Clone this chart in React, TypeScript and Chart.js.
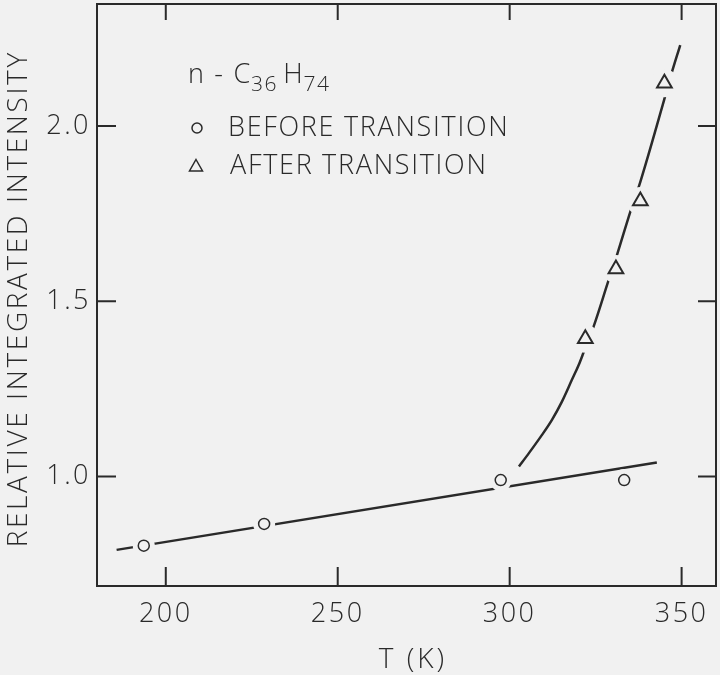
import React, { useEffect, useRef } from 'react';
import { Chart, registerables } from 'chart.js';

Chart.register(...registerables);

const BG = '#f1f1f1';
const INK = '#2a2a2a';
const FONT = '"Open Sans", "DejaVu Sans", sans-serif';

// Axis ticks
const xTickValues = [200, 250, 300, 350];
const xTickLabels = ['200', '250', '300', '350'];
const yTickValues = [1.0, 1.5, 2.0];
const yTickLabels = ['1.0', '1.5', '2.0'];

// Axis titles
const xTitle = 'T (K)';
const yTitle = 'RELATIVE INTEGRATED INTENSITY';

// Measured points
const beforeT = [193.6, 228.6, 297.4, 333.3];
const beforeI = [0.803, 0.865, 0.99, 0.99];
const afterT = [322.0, 330.9, 338.0, 345.0];
const afterI = [1.393, 1.592, 1.786, 2.122];

// Hand-drawn curves
const baseFitT = [185.7, 342.8];
const baseFitI = [0.791, 1.04];
const curveT = [302.7, 305.6, 309.4, 312.3, 315.2, 318.1, 320.1, 321.6, 324.4, 328.8, 331.2, 335.1, 338.0, 344.9, 346.8, 349.6];
const curveI = [1.029, 1.067, 1.119, 1.162, 1.214, 1.276, 1.319, 1.357, 1.428, 1.561, 1.632, 1.756, 1.841, 2.074, 2.141, 2.231];

const pts = (xs: number[], ys: number[]) => xs.map((x, i) => ({ x, y: ys[i] }));

const frameAndTicks = {
  id: 'frameAndTicks',
  beforeDraw(chart: any) {
    // spacing for Chart.js-drawn tick labels
    try { chart.ctx.letterSpacing = '2.5px'; } catch (e) {}
  },
  afterDraw(chart: any) {
    const { ctx, chartArea: a, scales } = chart;
    ctx.save();
    ctx.strokeStyle = INK;
    ctx.lineWidth = 2;
    ctx.strokeRect(a.left, a.top, a.right - a.left, a.bottom - a.top);
    ctx.beginPath();
    xTickValues.forEach((v) => {
      const px = scales.x.getPixelForValue(v);
      ctx.moveTo(px, a.bottom);
      ctx.lineTo(px, a.bottom - 19);
      ctx.moveTo(px, a.top);
      ctx.lineTo(px, a.top + 16);
    });
    yTickValues.forEach((v) => {
      const py = scales.y.getPixelForValue(v);
      ctx.moveTo(a.left, py);
      ctx.lineTo(a.left + 19, py);
      ctx.moveTo(a.right, py);
      ctx.lineTo(a.right - 18, py);
    });
    ctx.stroke();

    // Axis titles
    ctx.fillStyle = INK;
    ctx.textBaseline = 'alphabetic';
    ctx.textAlign = 'left';
    ctx.font = `300 28px ${FONT}`;
    try { (ctx as any).letterSpacing = '3px'; } catch (e) {}
    const wx = ctx.measureText(xTitle).width - 3;
    ctx.fillText(xTitle, (a.left + a.right) / 2 + 5 - wx / 2, 668);
    try { (ctx as any).letterSpacing = '2.6px'; } catch (e) {}
    const wy = ctx.measureText(yTitle).width - 2.6;
    ctx.save();
    ctx.translate(27, (a.top + a.bottom) / 2 + 5);
    ctx.rotate(-Math.PI / 2);
    ctx.fillText(yTitle, -wy / 2, 0);
    ctx.restore();
    ctx.restore();
  },
};

const legendBlock = {
  id: 'legendBlock',
  afterDraw(chart: any) {
    const { ctx, chartArea: a } = chart;
    ctx.save();
    ctx.fillStyle = INK;
    ctx.strokeStyle = INK;
    ctx.textBaseline = 'alphabetic';
    ctx.textAlign = 'left';
    const big = `300 27px ${FONT}`;
    const small = `300 21px ${FONT}`;
    try { (ctx as any).letterSpacing = '1.7px'; } catch (e) {}
    // Title line: n - C36 H74
    let x = a.left + 91;
    const y1 = a.top + 79;
    ctx.font = big;
    ctx.fillText('n - C', x, y1);
    x += ctx.measureText('n - C').width - 1;
    ctx.font = small;
    ctx.fillText('36', x, y1 + 8);
    x += ctx.measureText('36').width + 5;
    ctx.font = big;
    ctx.fillText('H', x, y1);
    x += ctx.measureText('H').width - 1;
    ctx.font = small;
    ctx.fillText('74', x, y1 + 8);

    // Entries
    ctx.font = big;
    const y2 = a.top + 132;
    const y3 = a.top + 170;
    ctx.lineWidth = 1.5;
    ctx.beginPath();
    ctx.arc(a.left + 100, y2 - 8, 5, 0, Math.PI * 2);
    ctx.stroke();
    ctx.fillText('BEFORE TRANSITION', a.left + 131, y2);
    ctx.beginPath();
    const tx = a.left + 99, ty = y3 - 8;
    ctx.moveTo(tx, ty - 6.5);
    ctx.lineTo(tx + 6.5, ty + 5);
    ctx.lineTo(tx - 6.5, ty + 5);
    ctx.closePath();
    ctx.stroke();
    ctx.fillText('AFTER TRANSITION', a.left + 133, y3);
    ctx.restore();
  },
};

export default function App() {
  const ref = useRef<HTMLCanvasElement>(null);
  useEffect(() => {
    const canvas = ref.current!;
    const chart = new Chart(canvas, {
      type: 'scatter',
      data: {
        datasets: [
          {
            label: 'base',
            data: pts(baseFitT, baseFitI),
            showLine: true,
            borderColor: INK,
            borderWidth: 2.5,
            pointRadius: 0,
            order: 3,
          },
          {
            label: 'curve',
            data: pts(curveT, curveI),
            showLine: true,
            borderColor: INK,
            borderWidth: 2.5,
            pointRadius: 0,
            cubicInterpolationMode: 'monotone',
            order: 3,
          },
          {
            label: 'halo-before',
            data: pts(beforeT, beforeI),
            pointRadius: 11,
            pointBackgroundColor: BG,
            pointBorderWidth: 0,
            order: 2,
          },
          {
            label: 'halo-after',
            data: pts(afterT, afterI),
            pointRadius: 14,
            pointBackgroundColor: BG,
            pointBorderWidth: 0,
            order: 2,
          },
          {
            label: 'BEFORE TRANSITION',
            data: pts(beforeT, beforeI),
            pointStyle: 'circle',
            pointRadius: 5.5,
            pointBackgroundColor: BG,
            pointBorderColor: INK,
            pointBorderWidth: 1.5,
            order: 1,
          },
          {
            label: 'AFTER TRANSITION',
            data: pts(afterT, afterI),
            pointStyle: 'triangle',
            pointRadius: 8.5,
            pointBackgroundColor: BG,
            pointBorderColor: INK,
            pointBorderWidth: 2,
            order: 1,
          },
        ],
      },
      options: {
        animation: false,
        responsive: false,
        events: [],
        layout: { autoPadding: false, padding: { top: 4, right: 4, left: 0, bottom: 0 } },
        plugins: { legend: { display: false }, tooltip: { enabled: false } },
        scales: {
          x: {
            type: 'linear',
            min: 180,
            max: 360,
            grid: { display: false, drawTicks: false },
            border: { display: false },
            afterBuildTicks: (s: any) => {
              s.ticks = xTickValues.map((v) => ({ value: v }));
            },
            afterFit: (s: any) => {
              s.height = 89;
              s.paddingLeft = 0;
              s.paddingRight = 0;
            },
            ticks: {
              color: INK,
              padding: 12,
              maxRotation: 0,
              autoSkip: false,
              font: { family: FONT, size: 27, weight: '300' as any },
              callback: (_v: any, i: number) => xTickLabels[i],
            },
          },
          y: {
            type: 'linear',
            min: 0.688,
            max: 2.348,
            grid: { display: false, drawTicks: false },
            border: { display: false },
            afterBuildTicks: (s: any) => {
              s.ticks = yTickValues.map((v) => ({ value: v }));
            },
            afterFit: (s: any) => {
              s.width = 97;
              s.paddingTop = 0;
              s.paddingBottom = 0;
            },
            ticks: {
              color: INK,
              padding: 6,
              autoSkip: false,
              font: { family: FONT, size: 27, weight: '300' as any },
              callback: (_v: any, i: number) => yTickLabels[i],
            },
          },
        },
      },
      plugins: [frameAndTicks, legendBlock],
    });
    return () => chart.destroy();
  }, []);
  return (
    <div style={{ position: 'fixed', left: 0, top: 0, width: 720, height: 675, background: BG }}>
      <canvas ref={ref} width={720} height={675} />
    </div>
  );
}
